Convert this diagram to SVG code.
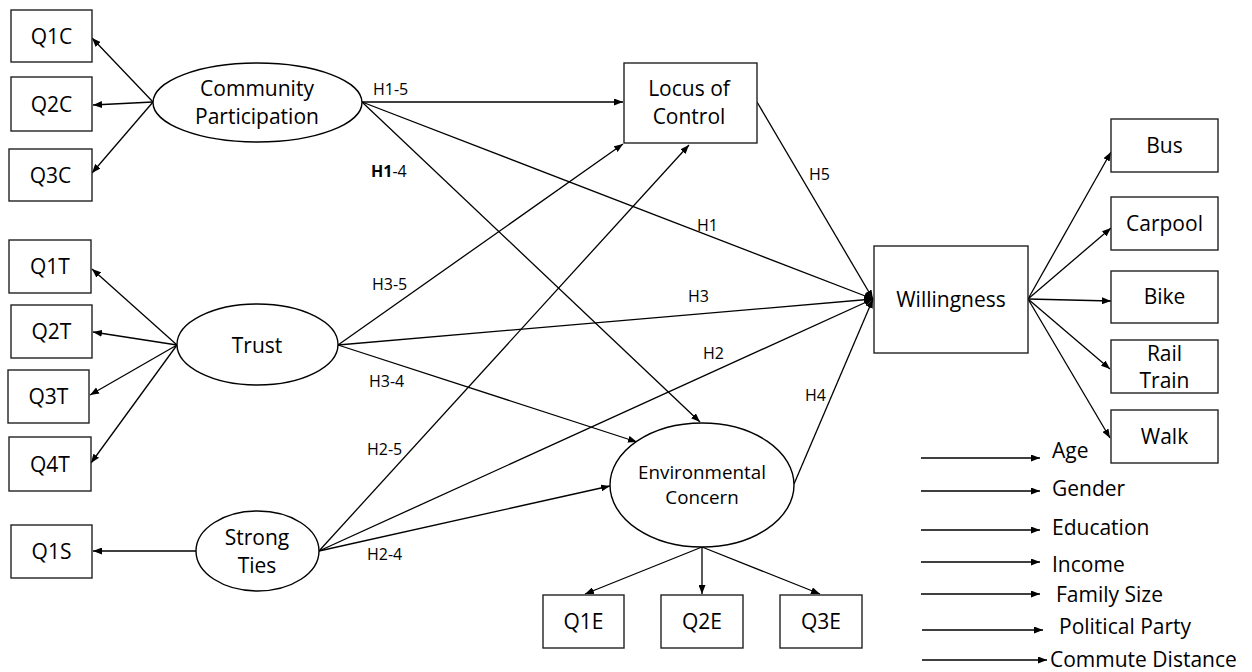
<svg xmlns="http://www.w3.org/2000/svg" width="1252" height="672" viewBox="0 0 1252 672">
<style>
  text { font-family: "Open Sans", "Liberation Sans", sans-serif; fill: #000; }
  .box { fill: #fff; stroke: #222; stroke-width: 1.4; }
  .ell { fill: #fff; stroke: #000; stroke-width: 1.4; }
  .t { font-size: 21px; text-anchor: middle; }
  .te { font-size: 18.8px; text-anchor: middle; }
  .h { font-size: 16px; }
  .lg { font-size: 21px; }
  .c line, .c path { stroke: #000; stroke-width: 1.3; fill: none; marker-end: url(#ah); }
</style>
<defs>
  <marker id="ah" markerUnits="userSpaceOnUse" markerWidth="9" markerHeight="7" refX="9" refY="3.5" orient="auto">
    <path d="M0,0 L9,3.5 L0,7 z" fill="#000"/>
  </marker>
</defs>

<g class="c" id="connectors">
  <line x1="153" y1="102" x2="92" y2="38"/>
  <line x1="153" y1="102" x2="93" y2="105"/>
  <line x1="153" y1="102" x2="92" y2="173"/>
  <line x1="177" y1="345" x2="92" y2="269"/>
  <line x1="177" y1="345" x2="93" y2="332"/>
  <line x1="177" y1="345" x2="90" y2="395"/>
  <line x1="177" y1="345" x2="91" y2="463"/>
  <line x1="196" y1="551" x2="93" y2="551"/>
  <line x1="362" y1="102" x2="623" y2="102"/>
  <line x1="362" y1="102" x2="873" y2="299"/>
  <line x1="362" y1="102" x2="700" y2="422"/>
  <line x1="338" y1="345" x2="623" y2="144"/>
  <line x1="338" y1="345" x2="873" y2="299"/>
  <line x1="338" y1="345" x2="637" y2="442"/>
  <line x1="319" y1="551" x2="689" y2="145"/>
  <line x1="319" y1="551" x2="873" y2="299"/>
  <line x1="319" y1="551" x2="610" y2="486"/>
  <line x1="757" y1="102" x2="873" y2="299"/>
  <line x1="794" y1="484" x2="873" y2="299"/>
  <line x1="702" y1="547" x2="585" y2="594"/>
  <line x1="702" y1="547" x2="702" y2="594"/>
  <line x1="702" y1="547" x2="820" y2="594"/>
  <line x1="1028" y1="299" x2="1111" y2="152"/>
  <line x1="1028" y1="299" x2="1111" y2="228"/>
  <line x1="1028" y1="299" x2="1111" y2="301"/>
  <line x1="1028" y1="299" x2="1110" y2="369"/>
  <line x1="1028" y1="299" x2="1110" y2="438"/>
  <line x1="921" y1="458" x2="1040" y2="458"/>
  <line x1="921" y1="491" x2="1040" y2="491"/>
  <line x1="921" y1="530" x2="1040" y2="530"/>
  <line x1="921" y1="562" x2="1040" y2="562"/>
  <line x1="921" y1="594" x2="1040" y2="594"/>
  <line x1="922" y1="630" x2="1043" y2="630"/>
  <line x1="922" y1="660" x2="1047" y2="660"/>
</g>

<g id="labels">
  <text class="h" x="373" y="95">H1-5</text>
  <text class="h" x="371" y="177"><tspan font-weight="bold">H1</tspan>-4</text>
  <text class="h" x="809" y="180">H5</text>
  <text class="h" x="697" y="231">H1</text>
  <text class="h" x="688" y="302">H3</text>
  <text class="h" x="703" y="359">H2</text>
  <text class="h" x="805" y="401">H4</text>
  <text class="h" x="372" y="290">H3-5</text>
  <text class="h" x="369" y="387">H3-4</text>
  <text class="h" x="367" y="455">H2-5</text>
  <text class="h" x="367" y="560">H2-4</text>
</g>

<g id="q1c"><rect class="box" x="11" y="10" width="81" height="52"/><text class="t" x="51.5" y="43.5">Q1C</text></g>
<g id="q2c"><rect class="box" x="11" y="77" width="81" height="54"/><text class="t" x="51.5" y="111.5">Q2C</text></g>
<g id="q3c"><rect class="box" x="9" y="149" width="83" height="52"/><text class="t" x="50.5" y="182.5">Q3C</text></g>
<g id="q1t"><rect class="box" x="9" y="240" width="82" height="53"/><text class="t" x="50" y="274">Q1T</text></g>
<g id="q2t"><rect class="box" x="11" y="305" width="81" height="53"/><text class="t" x="51.5" y="339">Q2T</text></g>
<g id="q3t"><rect class="box" x="8" y="370" width="81" height="53"/><text class="t" x="48.5" y="404">Q3T</text></g>
<g id="q4t"><rect class="box" x="9" y="437" width="82" height="54"/><text class="t" x="50" y="471.5">Q4T</text></g>
<g id="q1s"><rect class="box" x="11" y="525" width="81" height="53"/><text class="t" x="51.5" y="559">Q1S</text></g>

<g id="community"><ellipse class="ell" cx="257.5" cy="102.5" rx="104.5" ry="39.5"/><text class="t" x="257" y="96">Community</text><text class="t" x="257" y="124">Participation</text></g>
<g id="trust"><ellipse class="ell" cx="257.5" cy="344.5" rx="80.5" ry="40.5"/><text class="t" x="257" y="353">Trust</text></g>
<g id="strong"><ellipse class="ell" cx="257.5" cy="551" rx="61.5" ry="40"/><text class="t" x="257" y="545">Strong</text><text class="t" x="257" y="573">Ties</text></g>

<g id="locus"><rect class="box" x="624" y="63" width="133" height="80"/><text class="t" x="689" y="96">Locus of</text><text class="t" x="689" y="124">Control</text></g>
<g id="env"><ellipse class="ell" cx="702" cy="485" rx="92" ry="62"/><text class="te" x="702" y="479">Environmental</text><text class="te" x="702" y="504">Concern</text></g>

<g id="q1e"><rect class="box" x="543" y="595" width="81" height="53"/><text class="t" x="583.5" y="629">Q1E</text></g>
<g id="q2e"><rect class="box" x="661" y="595" width="82" height="53"/><text class="t" x="702" y="629">Q2E</text></g>
<g id="q3e"><rect class="box" x="780" y="595" width="82" height="53"/><text class="t" x="821" y="629">Q3E</text></g>

<g id="willingness"><rect class="box" x="874" y="246" width="154" height="107"/><text class="t" x="951" y="307">Willingness</text></g>

<g id="bus"><rect class="box" x="1111" y="119" width="107" height="53"/><text class="t" x="1164.5" y="153">Bus</text></g>
<g id="carpool"><rect class="box" x="1111" y="197" width="107" height="53"/><text class="t" x="1164.5" y="231">Carpool</text></g>
<g id="bike"><rect class="box" x="1111" y="271" width="107" height="52"/><text class="t" x="1164.5" y="304">Bike</text></g>
<g id="rail"><rect class="box" x="1111" y="340" width="107" height="53"/><text class="t" x="1164.5" y="361">Rail</text><text class="t" x="1164.5" y="388">Train</text></g>
<g id="walk"><rect class="box" x="1111" y="410" width="107" height="53"/><text class="t" x="1164.5" y="444">Walk</text></g>

<g id="legend">
  <text class="lg" x="1052" y="458">Age</text>
  <text class="lg" x="1052" y="496">Gender</text>
  <text class="lg" x="1052" y="535">Education</text>
  <text class="lg" x="1052" y="572">Income</text>
  <text class="lg" x="1056" y="602">Family Size</text>
  <text class="lg" x="1059" y="634">Political Party</text>
  <text class="lg" x="1050" y="667">Commute Distance</text>
</g>
</svg>
